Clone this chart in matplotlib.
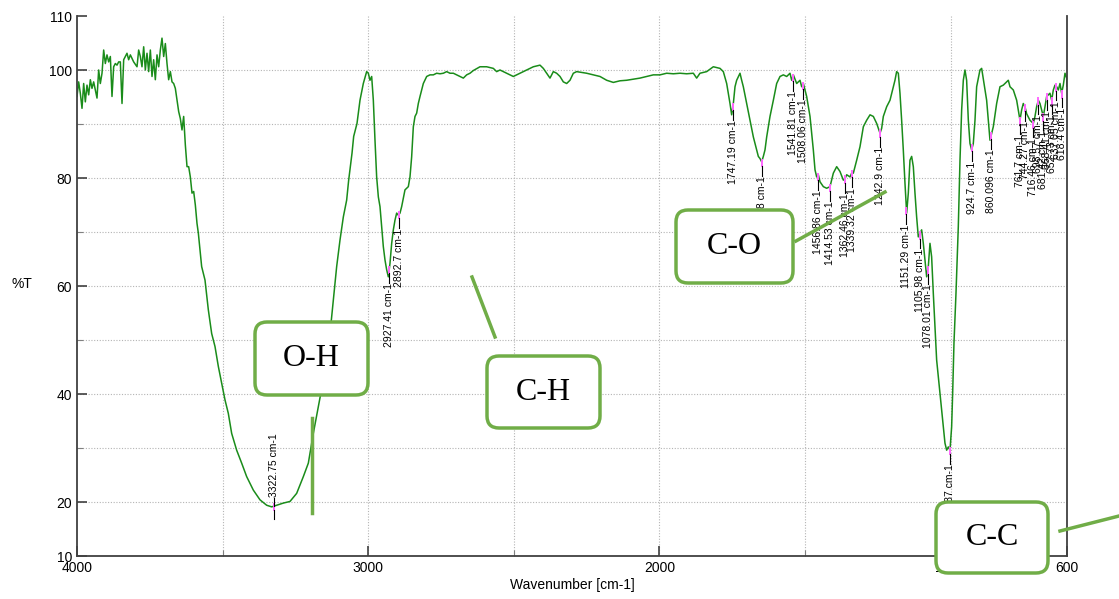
#!/usr/bin/env python3
import numpy as np
import matplotlib
matplotlib.use("Agg")
import matplotlib.pyplot as plt
from matplotlib.patches import FancyBboxPatch
from matplotlib.lines import Line2D
from matplotlib.transforms import IdentityTransform

# Spectrum, in segments (wavenumber cm-1, %T)
wn_noise = [4000.0, 3994.3, 3988.6, 3982.8, 3977.1, 3971.4, 3965.7, 3959.9, 3954.2, 3948.5,
            3942.8, 3937.0, 3931.3, 3925.6, 3919.9, 3914.1, 3908.4, 3902.7, 3897.0, 3891.2,
            3885.5, 3879.8, 3874.1, 3868.3, 3862.6, 3856.9, 3851.2, 3845.4, 3839.7, 3834.0,
            3828.3, 3822.6, 3816.8, 3805.4, 3793.9, 3788.2, 3782.5, 3776.8, 3771.0, 3765.3,
            3759.6, 3753.9, 3748.1, 3742.4, 3736.7, 3731.0, 3725.2, 3719.5, 3713.8, 3708.1,
            3702.3, 3696.6, 3690.9, 3685.2, 3679.4, 3673.7, 3668.0, 3662.3, 3656.6, 3650.8,
            3645.1, 3639.4, 3633.7, 3627.9, 3622.2, 3616.5, 3610.8, 3605.0, 3599.3, 3593.6, 3587.9]
t_noise = [95.1, 97.8, 95.7, 92.9, 97.5, 94.1, 97.2, 95.4, 98.2, 96.6,
           97.8, 96.3, 94.8, 100.0, 97.5, 99.4, 103.7, 101.2, 102.8, 101.5,
           102.5, 95.1, 100.6, 101.2, 100.9, 101.5, 101.5, 93.8, 101.9, 102.5,
           103.1, 101.9, 102.8, 101.5, 100.6, 103.7, 102.5, 100.6, 104.3, 100.0,
           103.1, 99.7, 103.7, 98.8, 101.9, 98.2, 102.8, 100.6, 103.7, 105.9,
           102.5, 104.9, 101.2, 98.2, 99.7, 97.8, 97.5, 96.6, 94.4, 92.3,
           91.0, 88.9, 91.4, 86.1, 82.1, 82.1, 80.2, 77.2, 77.5, 75.0, 71.6]

wn_oh = [3583.3, 3571.9, 3560.4, 3549.0, 3537.5, 3526.1, 3514.6, 3503.2, 3491.7, 3480.3,
         3468.8, 3451.7, 3434.5, 3417.3, 3394.4, 3371.5, 3348.6, 3331.4, 3314.3, 3291.4,
         3268.5, 3245.6, 3222.7, 3205.5, 3188.4, 3171.2, 3154.0, 3131.1, 3119.7, 3108.2,
         3096.8, 3085.3, 3073.9, 3067.0, 3055.5, 3049.8, 3038.4, 3032.6]
t_oh = [69.8, 63.6, 61.1, 55.6, 51.2, 48.8, 45.1, 42.0, 38.9, 36.4,
        32.7, 29.6, 27.2, 24.7, 22.2, 20.4, 19.4, 19.1, 19.4, 19.8,
        20.1, 21.6, 24.7, 27.2, 32.7, 37.6, 42.6, 51.2, 57.4, 63.6,
        68.5, 72.8, 75.9, 79.6, 84.6, 87.7, 90.1, 92.6]

wn_ch = [3028.1, 3016.7, 3005.2, 2999.5, 2993.8, 2988.0, 2982.3, 2976.6, 2970.9, 2965.1,
         2959.4, 2953.7, 2948.0, 2942.2, 2936.5, 2930.8, 2925.1, 2919.3, 2913.6, 2907.9,
         2902.2, 2896.5, 2890.7, 2885.0, 2873.6, 2862.1, 2856.4, 2850.7, 2844.9, 2839.2,
         2833.5, 2827.8, 2822.0, 2810.6, 2799.1, 2787.7, 2776.2, 2764.8, 2753.3, 2741.9,
         2730.4, 2719.0, 2707.5, 2696.1, 2684.7, 2673.2, 2661.8, 2650.3, 2638.9, 2616.0,
         2593.1, 2570.2, 2558.7, 2547.3, 2524.4, 2501.5, 2478.6, 2455.7, 2432.8, 2409.9,
         2398.5, 2387.0, 2375.6, 2364.1, 2352.7, 2341.2, 2329.8, 2318.3, 2306.9, 2295.4,
         2284.0, 2249.7, 2226.7, 2203.8, 2180.9, 2158.1, 2135.2, 2112.3, 2089.4, 2066.5,
         2043.6, 2020.7, 1997.8, 1974.9, 1952.0, 1929.1, 1906.2, 1883.3, 1871.9, 1860.4,
         1837.5, 1814.6, 1791.7, 1780.3, 1768.8, 1763.1, 1757.4, 1751.7, 1745.9, 1740.2,
         1734.5, 1723.0]
t_ch = [94.4, 97.5, 99.7, 99.4, 98.1, 98.8, 94.4, 87.0, 80.2, 76.5,
        74.7, 71.0, 67.3, 64.8, 63.0, 61.7, 64.2, 67.9, 70.4, 72.2,
        73.5, 73.1, 73.5, 74.7, 77.8, 78.4, 80.2, 83.9, 89.5, 91.4,
        92.0, 93.8, 95.1, 97.5, 98.8, 99.1, 99.1, 99.4, 99.3, 99.4,
        99.7, 99.4, 99.4, 99.1, 98.8, 98.5, 99.1, 99.4, 99.9, 100.6,
        100.6, 100.3, 99.7, 100.0, 99.4, 98.8, 99.4, 100.0, 100.6, 100.9,
        100.3, 99.4, 98.5, 99.7, 99.4, 98.8, 97.8, 97.5, 98.1, 99.4,
        99.7, 99.4, 99.1, 98.8, 98.1, 97.7, 98.0, 98.1, 98.3, 98.5,
        98.8, 99.1, 99.1, 99.4, 99.3, 99.4, 99.3, 99.4, 98.5, 99.4,
        99.7, 100.6, 100.3, 99.7, 97.5, 95.7, 93.8, 91.7, 93.8, 96.9,
        98.1, 99.4]

wn_co = [1717.3, 1711.6, 1700.1, 1688.7, 1677.2, 1665.8, 1660.1, 1654.3, 1648.6, 1642.9,
         1637.2, 1631.4, 1620.0, 1608.5, 1597.1, 1585.6, 1574.2, 1562.7, 1551.3, 1545.6,
         1539.8, 1528.4, 1516.9, 1511.2, 1505.5, 1494.1, 1482.6, 1471.2, 1465.4, 1459.7,
         1454.0, 1448.3, 1436.8, 1425.4, 1413.9, 1402.5, 1391.0, 1379.6, 1368.1, 1362.4,
         1356.7, 1345.2, 1339.5, 1333.8, 1322.3, 1310.9, 1299.4, 1288.0, 1276.5, 1265.1,
         1253.6, 1242.2, 1236.5, 1230.8, 1219.3, 1207.9, 1196.4]
t_co = [98.1, 96.9, 93.8, 90.7, 87.6, 85.2, 84.0, 83.6, 83.0, 84.0,
        85.2, 87.6, 91.4, 94.4, 97.5, 98.8, 99.1, 98.8, 99.4, 98.1,
        99.1, 97.5, 98.1, 96.9, 97.5, 95.1, 91.4, 85.2, 81.5, 80.2,
        80.6, 79.3, 78.4, 78.1, 78.4, 80.9, 82.1, 81.2, 79.6, 79.9,
        80.6, 80.2, 80.9, 80.9, 83.3, 85.8, 89.5, 90.7, 91.7, 91.4,
        90.1, 88.3, 89.2, 91.4, 93.2, 94.4, 96.9]

wn_fp = [1190.8, 1185.1, 1179.3, 1173.6, 1167.9, 1162.2, 1156.4, 1150.7, 1145.0, 1139.3,
         1133.5, 1127.8, 1122.1, 1116.4, 1110.7, 1104.9, 1099.2, 1093.5, 1087.8, 1082.0,
         1076.3, 1070.6, 1064.9, 1059.1, 1053.4, 1047.7, 1036.2, 1024.8, 1019.1, 1013.3,
         1007.6, 1001.9, 996.2, 992.7, 988.2, 981.3, 973.3, 967.5, 961.8, 956.1,
         950.4, 944.7, 938.9, 933.2, 927.5, 921.8, 916.0, 910.3, 898.9]
t_fp = [98.1, 99.7, 99.4, 95.7, 90.7, 85.2, 79.0, 73.5, 77.2, 83.3,
        84.0, 82.1, 77.2, 72.8, 69.1, 69.7, 70.4, 67.9, 64.8, 61.7,
        63.6, 67.9, 65.4, 58.6, 52.5, 46.3, 40.1, 33.9, 30.9, 29.6,
        30.2, 29.6, 33.9, 40.1, 49.4, 58.6, 71.0, 83.3, 92.6, 98.1,
        100.0, 98.1, 90.7, 86.4, 85.2, 86.4, 90.7, 96.9, 100.0]

wn_low = [893.1, 876.0, 864.5, 853.1, 841.6, 830.2, 818.7, 807.3, 801.6, 795.8,
          784.4, 772.9, 761.5, 755.8, 750.1, 744.3, 738.6, 727.2, 715.7, 710.0,
          704.3, 698.5, 692.8, 687.1, 681.4, 675.6, 669.9, 658.5, 652.7, 647.0,
          641.3, 635.5, 629.8, 624.1, 618.4, 612.7, 606.9, 601.2, 600.0]
t_low = [100.3, 94.4, 87.0, 89.5, 93.8, 96.9, 97.2, 97.8, 98.1, 96.9,
         96.3, 94.4, 90.7, 92.6, 93.8, 93.2, 91.9, 90.7, 90.1, 91.4,
         93.2, 94.4, 93.8, 92.6, 91.4, 93.2, 95.1, 95.7, 94.4, 96.3,
         97.2, 96.9, 96.3, 97.5, 95.7, 97.2, 99.4, 98.5, 97.0]

# picked peaks
peak_wn = [3322.75, 2927.41, 2892.7, 1747.19, 1648.48, 1541.81, 1508.06, 1456.86,
           1414.53, 1362.46, 1339.32, 1242.9, 1151.29, 1105.98, 1078.01, 1001.87,
           924.7, 860.096, 761.7, 744.27, 716.46, 698.57, 681.42, 668.41, 652.73, 637.05, 618.4]
peak_up = [True] + [False] * 26

# band annotations: text, box (x0, y0, x1, y1) and connector (x, y, x, y) in image pixels
band_names = ["O-H", "C-H", "C-O", "C-C"]
band_boxes = [(255, 322, 368, 395), (487, 356, 600, 428), (676, 210, 793, 283), (936, 502, 1048, 573)]
band_lines = [(312, 418, 312, 513), (472, 277, 495, 337), (796, 241, 885, 192), (1060, 531, 1119, 516)]

W, H = 1119, 599
GREEN = "#70ad47"

plt.rcParams["font.family"] = ["Liberation Sans", "DejaVu Sans"]


def main():
    wn = np.concatenate([wn_noise, wn_oh, wn_ch, wn_co, wn_fp, wn_low])
    t = np.concatenate([t_noise, t_oh, t_ch, t_co, t_fp, t_low])

    fig = plt.figure(figsize=(W / 100, H / 100), dpi=100)
    ax = fig.add_axes([77 / W, 43 / H, 990 / W, 540 / H])

    # grid
    for gx in range(1000, 3501, 500):
        ax.axvline(gx, color="#b4b4b4", lw=0.8, ls=(0, (1, 1.5)), zorder=0)
    for gy in range(20, 101, 10):
        ax.axhline(gy, color="#b4b4b4", lw=0.8, ls=(0, (1, 1.5)), zorder=0)

    ax.plot(wn, t, color="#1a8c1a", lw=1.1, zorder=2)

    # peak labels
    order = np.argsort(wn)
    for w, up in zip(peak_wn, peak_up):
        tv = np.interp(w, wn[order], t[order])
        ax.plot([w, w], [tv + 0.4, tv - 0.8], color="#ff66ff", lw=1.4, zorder=3)
        if up:
            ax.plot([w, w], [tv - 0.8, tv - 2.4], color="black", lw=0.8, zorder=3)
            ax.plot([w, w], [tv, tv + 1.5], color="black", lw=0.8, zorder=3)
            ax.text(w, tv + 1.6, f"{w:g} cm-1", rotation=90, ha="center", va="bottom",
                    fontsize=7.5, zorder=4)
        else:
            ax.plot([w, w], [tv - 0.8, tv - 2.6], color="black", lw=0.8, zorder=3)
            ax.text(w, tv - 2.7, f"{w:g} cm-1", rotation=90, ha="center", va="top",
                    fontsize=7.5, zorder=4)

    ax.set_xlim(4000, 600)
    ax.set_ylim(10, 110)
    ax.set_xticks([4000, 3000, 2000, 1000, 600])
    ax.set_xticks([3500, 2500, 1500], minor=True)
    ax.set_yticks([10, 20, 40, 60, 80, 100, 110])
    ax.set_yticks([30, 50, 70, 90], minor=True)
    ax.tick_params(which="major", direction="in", length=7, width=1.2, color="#404040",
                   labelsize=10, top=False, right=False)
    ax.tick_params(which="minor", direction="in", length=4, width=0.8, color="#808080",
                   top=False, right=False)
    for side in ["left", "right", "bottom"]:
        ax.spines[side].set_color("#404040")
        ax.spines[side].set_linewidth(1.3)
    ax.spines["top"].set_visible(False)

    ax.set_xlabel("Wavenumber [cm-1]", fontsize=10, labelpad=2)
    ax.set_ylabel("%T", fontsize=10, rotation=0)
    ax.yaxis.set_label_coords(-0.056, 0.49)

    # band boxes and connectors
    px = IdentityTransform()
    for name, (x0, y0, x1, y1), (lx0, ly0, lx1, ly1) in zip(band_names, band_boxes, band_lines):
        fig.add_artist(Line2D([lx0, lx1], [H - ly0, H - ly1], color=GREEN, lw=2.5,
                              transform=px, zorder=5))
        fig.add_artist(FancyBboxPatch((x0, H - y1), x1 - x0, y1 - y0,
                                      boxstyle="round,pad=0,rounding_size=12",
                                      facecolor="white", edgecolor=GREEN, lw=2.5,
                                      transform=px, zorder=6))
        fig.text((x0 + x1) / 2, H - (y0 + y1) / 2, name, transform=px, ha="center",
                 va="center", fontsize=23, family="Liberation Serif", zorder=7)

    fig.savefig("out.png", dpi=100)


if __name__ == "__main__":
    main()
